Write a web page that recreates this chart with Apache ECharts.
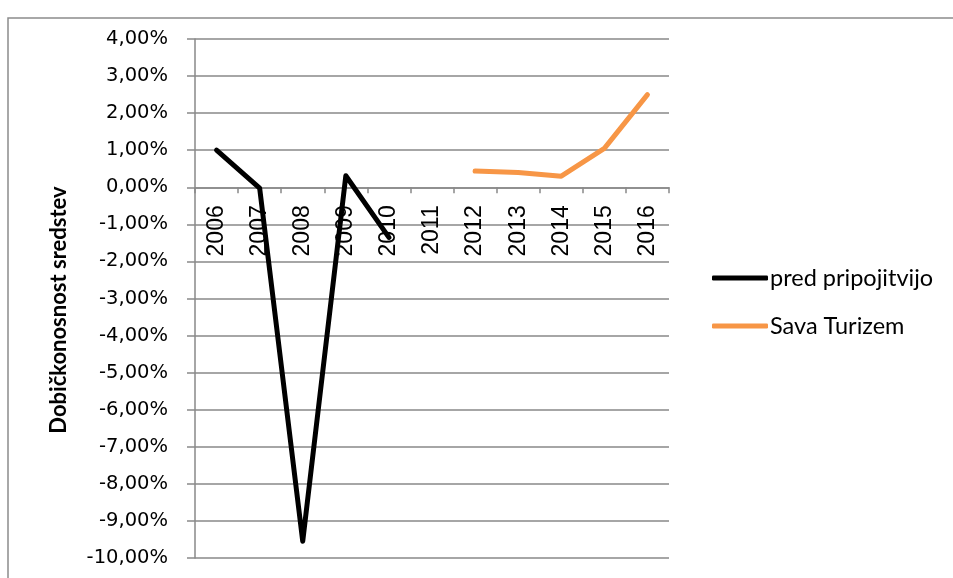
<!DOCTYPE html>
<html>
<head>
<meta charset="utf-8">
<style>
  html, body { margin: 0; padding: 0; background: #fff; }
  #chart { width: 953px; height: 578px; }
</style>
<script src="https://cdn.jsdelivr.net/npm/echarts@6/dist/echarts.min.js"></script>
</head>
<body>
<div id="chart"></div>
<script>
// Return on assets by year, in percent
const years = ['2006', '2007', '2008', '2009', '2010', '2011', '2012', '2013', '2014', '2015', '2016'];
const predPripojitvijo = [1.00, -0.02, -9.55, 0.31, -1.35, null, null, null, null, null, null];
const savaTurizem = [null, null, null, null, null, null, 0.44, 0.40, 0.30, 1.05, 2.50];
const seriesNames = ['pred pripojitvijo', 'Sava Turizem'];
const yTitle = 'Dobičkonosnost sredstev';

const gridGray = '#898989';
const yMin = -10, yMax = 4;
const gridTop = 39, gridBottom = 20, chartHeight = 578;

// the category axis sits on the zero line, with its labels just below it
const plotHeight = chartHeight - gridTop - gridBottom;
const zeroFromBottom = plotHeight * (0 - yMin) / (yMax - yMin);

const chart = echarts.init(document.getElementById('chart'), null, { renderer: 'canvas' });

chart.setOption({
  animation: false,
  backgroundColor: '#ffffff',
  graphic: [
    {
      type: 'rect',
      shape: { x: 8, y: 18, width: 1000, height: 700 },
      style: { fill: 'none', stroke: '#8c8c8c', lineWidth: 1.5 },
      silent: true
    },
    {
      // vertical value-axis title
      type: 'text',
      x: 58.5,
      y: 310,
      rotation: Math.PI / 2,
      style: {
        text: yTitle,
        fontFamily: 'Lato',
        fontWeight: 'bold',
        fontSize: 22,
        fill: '#000',
        align: 'center',
        verticalAlign: 'middle'
      },
      silent: true
    }
  ],
  grid: {
    left: 195, right: 284, top: gridTop, bottom: gridBottom,
    containLabel: false, outerBoundsMode: 'none'
  },
  legend: {
    orient: 'vertical',
    left: 707,
    top: 260,
    itemWidth: 56,
    itemHeight: 5,
    itemGap: 22,
    icon: 'roundRect',
    data: seriesNames,
    textStyle: {
      fontFamily: 'Lato',
      fontSize: 23.5,
      color: '#000',
      lineHeight: 26,
      padding: [0, 0, 0, -3]
    }
  },
  xAxis: {
    type: 'category',
    data: years,
    boundaryGap: true,
    position: 'bottom',
    offset: -zeroFromBottom,
    axisLine: { onZero: false, lineStyle: { color: gridGray, width: 1.5 } },
    axisTick: { show: true, length: 6, inside: false, lineStyle: { color: gridGray, width: 1.5 } },
    axisLabel: {
      rotate: 90,
      margin: 18,
      fontFamily: 'Liberation Sans',
      fontSize: 23,
      color: '#000'
    },
    splitLine: { show: false }
  },
  yAxis: {
    type: 'value',
    min: yMin,
    max: yMax,
    interval: 1,
    axisLine: { show: true, lineStyle: { color: gridGray, width: 1.5 } },
    axisTick: { show: true, length: 8, lineStyle: { color: gridGray, width: 1.5 } },
    axisLabel: {
      margin: 27,
      fontFamily: 'DejaVu Sans',
      fontSize: 19.5,
      color: '#000',
      formatter: v => v.toFixed(2).replace('.', ',') + '%'
    },
    splitLine: { show: true, lineStyle: { color: gridGray, width: 1.5 } }
  },
  series: [
    {
      name: seriesNames[0],
      type: 'line',
      data: predPripojitvijo,
      color: '#000000',
      showSymbol: false,
      symbol: 'none',
      connectNulls: false,
      z: 3,
      lineStyle: { width: 5, color: '#000000', cap: 'round', join: 'round' }
    },
    {
      name: seriesNames[1],
      type: 'line',
      data: savaTurizem,
      color: '#F79646',
      showSymbol: false,
      symbol: 'none',
      connectNulls: false,
      z: 3,
      lineStyle: { width: 5, color: '#F79646', cap: 'round', join: 'round' }
    }
  ]
});
</script>
</body>
</html>
